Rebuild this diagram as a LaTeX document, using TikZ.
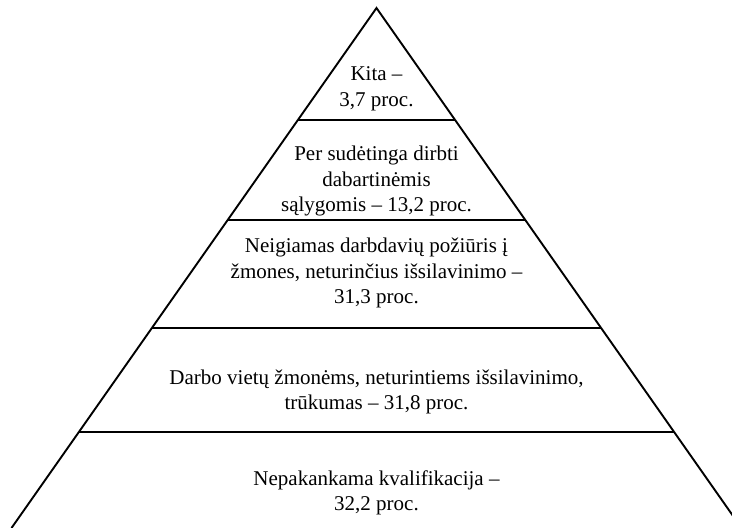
\documentclass[tikz,border=0pt]{standalone}
\usepackage{fontspec}
\setmainfont{Liberation Serif}
\begin{document}
\begin{tikzpicture}[x=1pt,y=-1pt,
  edge/.style={line width=1.9pt, line join=miter},
  lbl/.style={align=center, font=\fontsize{21}{25.5}\selectfont, inner sep=0pt}]
\useasboundingbox (0,0) rectangle (732,528);
\clip (0,0) rectangle (732,528);
\coordinate (apex) at (376.5,8);
\coordinate (bl) at (11.5,528);
\coordinate (br) at (741.5,528);
\coordinate (l1) at (297.9,120); \coordinate (r1) at (455.1,120);
\coordinate (l2) at (227.7,220); \coordinate (r2) at (525.3,220);
\coordinate (l3) at (151.9,328); \coordinate (r3) at (601.1,328);
\coordinate (l4) at (78.9,432);  \coordinate (r4) at (674.1,432);
\draw[edge] (bl) -- (apex) -- (br);
\draw[edge] (l1) -- (r1);
\draw[edge] (l2) -- (r2);
\draw[edge] (l3) -- (r3);
\draw[edge] (l4) -- (r4);
\node[lbl] (t1) at (376.5,89) {Kita –\\3,7 proc.};
\node[lbl] (t2) at (376.5,181) {Per sudėtinga dirbti\\dabartinėmis\\sąlygomis – 13,2 proc.};
\node[lbl] (t3) at (376.5,273) {Neigiamas darbdavių požiūris į\\žmones, neturinčius išsilavinimo –\\31,3 proc.};
\node[lbl] (t4) at (376.5,392) {Darbo vietų žmonėms, neturintiems išsilavinimo,\\trūkumas – 31,8 proc.};
\node[lbl] (t5) at (376.5,493) {Nepakankama kvalifikacija –\\32,2 proc.};
\end{tikzpicture}
\end{document}
